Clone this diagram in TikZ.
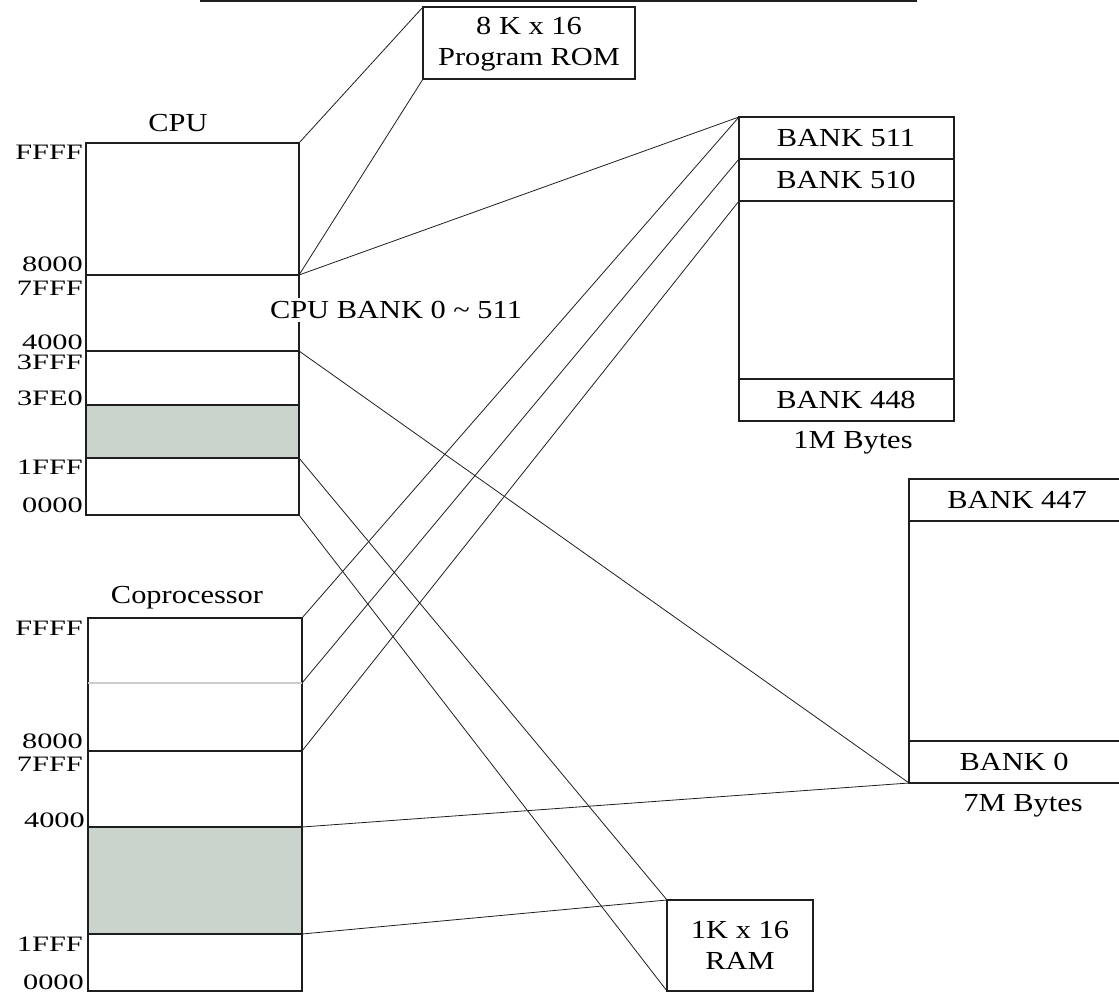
\documentclass[tikz,border=0pt]{standalone}
\usepackage{fontspec}
\setmainfont{Liberation Serif}[FakeStretch=1.17]
\newfontfamily\hexfont{Liberation Serif}[FakeStretch=1.38]
\definecolor{memgray}{RGB}{203,211,205}
\definecolor{faintline}{RGB}{205,205,205}
\definecolor{ink}{RGB}{30,30,30}
\begin{document}
\begin{tikzpicture}[x=1pt,y=-1pt,
  box/.style={draw=ink, line width=1.4pt, inner sep=0pt, outer sep=0pt, anchor=north west},
  link/.style={draw=ink, line width=0.8pt},
  div/.style={draw=ink, line width=1.4pt},
  hex/.style={font=\hexfont\fontsize{22}{22}\selectfont, anchor=east, inner sep=0pt},
  txt/.style={font=\fontsize{26}{31}\selectfont, inner sep=0pt, align=center}]

\useasboundingbox (0,0) rectangle (1119,992);

% top rule
\coordinate (ruleL) at (200,1);
\coordinate (ruleR) at (917,1);
\draw[ink, line width=2pt] (ruleL) -- (ruleR);

% ---------- CPU memory map ----------
\fill[memgray] (86,405) rectangle (299,458);
\node[box, minimum width=213pt, minimum height=372pt] (cpu) at (86,143) {};
\coordinate (c8L) at (86,275);  \coordinate (c8R) at (299,275);
\coordinate (c4L) at (86,351);  \coordinate (c4R) at (299,351);
\coordinate (c3L) at (86,405);  \coordinate (c3R) at (299,405);
\coordinate (c1L) at (86,458);  \coordinate (c1R) at (299,458);
\draw[div] (c8L) -- (c8R);
\draw[div] (c4L) -- (c4R);
\draw[div] (c3L) -- (c3R);
\draw[div] (c1L) -- (c1R);
\node[txt] (cpulbl) at (178,123) {CPU};
\node[hex] (cF) at (83,152) {FFFF};
\node[hex] (c8) at (83,264) {8000};
\node[hex] (c7) at (83,288) {7FFF};
\node[hex] (c4) at (83,342) {4000};
\node[hex] (c3) at (83,362) {3FFF};
\node[hex] (c3e) at (83,398) {3FE0};
\node[hex] (c1) at (83,467) {1FFF};
\node[hex] (c0) at (83,505) {0000};

% ---------- Coprocessor memory map ----------
\fill[memgray] (88,827) rectangle (302,934);
\node[box, minimum width=214pt, minimum height=373pt] (cop) at (88,618) {};
\coordinate (pAL) at (88,683);  \coordinate (pAR) at (302,683);
\coordinate (p8L) at (88,751);  \coordinate (p8R) at (302,751);
\coordinate (p4L) at (88,827);  \coordinate (p4R) at (302,827);
\coordinate (p1L) at (88,934);  \coordinate (p1R) at (302,934);
\draw[faintline, line width=1.4pt] (pAL) -- (pAR);
\draw[div] (p8L) -- (p8R);
\draw[div] (p4L) -- (p4R);
\draw[div] (p1L) -- (p1R);
\node[txt] (coplbl) at (187,598) {Coprocessor};
\node[hex] (pF) at (83,628) {FFFF};
\node[hex] (p8) at (83,741) {8000};
\node[hex] (p7) at (83,764) {7FFF};
\node[hex] (p4) at (85,820) {4000};
\node[hex] (p1) at (83,944) {1FFF};
\node[hex] (p0) at (84,982) {0000};

% ---------- Program ROM ----------
\node[box, minimum width=212pt, minimum height=72pt] (rom) at (423,7) {};
\node[txt] (romtxt) at (529,44) {8 K x 16\\Program ROM};

% ---------- Banks 511..448 ----------
\node[box, minimum width=215pt, minimum height=304pt] (hi) at (739,117) {};
\coordinate (h1L) at (739,159); \coordinate (h1R) at (954,159);
\coordinate (h2L) at (739,201); \coordinate (h2R) at (954,201);
\coordinate (h3L) at (739,379); \coordinate (h3R) at (954,379);
\draw[div] (h1L) -- (h1R);
\draw[div] (h2L) -- (h2R);
\draw[div] (h3L) -- (h3R);
\node[txt] (b511) at (846,138) {BANK 511};
\node[txt] (b510) at (846,180) {BANK 510};
\node[txt] (b448) at (846,400) {BANK 448};
\node[txt] (onem) at (853,443) {1M Bytes};

% ---------- Banks 447..0 ----------
\node[box, minimum width=216pt, minimum height=304pt] (lo) at (909,479) {};
\coordinate (l1L) at (909,521); \coordinate (l1R) at (1125,521);
\coordinate (l2L) at (909,741); \coordinate (l2R) at (1125,741);
\draw[div] (l1L) -- (l1R);
\draw[div] (l2L) -- (l2R);
\node[txt] (b447) at (1017,500) {BANK 447};
\node[txt] (b0) at (1014,762) {BANK 0};
\node[txt] (sevm) at (1023,806) {7M Bytes};

% ---------- RAM ----------
\node[box, minimum width=146pt, minimum height=91pt] (ram) at (667,900) {};
\node[txt] (ramtxt) at (740,945) {1K x 16\\RAM};

% ---------- connectors ----------
\draw[link] (cpu.north east) -- (rom.north west);
\draw[link] (c8R) -- (rom.south west);
\draw[link] (c8R) -- (hi.north west);
\draw[link] (c4R) -- (lo.south west);
\draw[link] (c1R) -- (ram.north west);
\draw[link] (cpu.south east) -- (ram.south west);
\draw[link] (cop.north east) -- (hi.north west);
\draw[link] (pAR) -- (h1L);
\draw[link] (p8R) -- (h2L);
\draw[link] (p4R) -- (lo.south west);
\draw[link] (p1R) -- (ram.north west);

% label over the CPU box edge
\node[txt, fill=white, inner xsep=1pt, inner ysep=3pt] (cpubank) at (396,310) {CPU BANK 0 \textasciitilde{} 511};
\end{tikzpicture}
\end{document}
